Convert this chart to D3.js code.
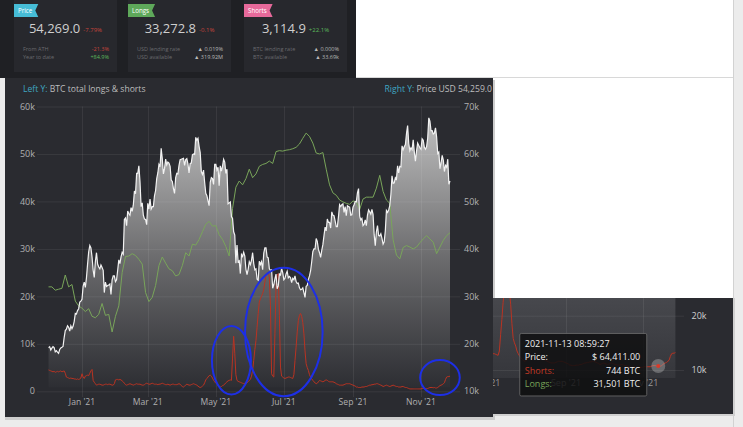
<!DOCTYPE html>
<html><head><meta charset="utf-8">
<script src="https://cdn.jsdelivr.net/npm/d3@7"></script>
<style>html,body{margin:0;padding:0;background:#ececec;overflow:hidden}svg{display:block;font-family:"Open Sans",sans-serif}</style>
</head><body><svg id="c" width="743" height="427"></svg>
<script>
// ---------------- DATA ----------------
// BTC price (USD thousands), daily from 2020-12-02
const priceStart = "2020-12-02";
const priceK = [
 19.2,19.4,18.7,19.1,19.4,19.2,18.3,18.55,18.25,18.0,18.8,19.15,19.27,19.44,21.3,22.8,23.1,23.8,23.5,22.7,23.8,23.2,23.7,24.7,26.4,26.3,27.0,27.4,28.8,29.0,
 29.4,32.1,33.0,31.9,33.9,36.8,39.4,40.7,40.2,38.3,35.5,34.0,37.4,39.2,36.8,36.2,35.8,36.6,36.1,35.5,30.8,33.0,32.1,32.3,32.4,32.6,30.4,33.5,34.3,34.3,33.1,
 33.5,35.5,37.7,36.9,38.3,39.3,38.9,46.2,46.5,44.9,48.0,47.4,47.1,48.7,47.9,49.2,52.2,51.6,55.9,55.9,57.5,54.2,48.9,49.7,47.1,46.3,46.2,45.1,
 49.6,48.4,50.5,48.4,48.9,48.9,51.2,52.3,54.8,56.0,57.8,57.3,61.2,59.0,55.8,56.9,58.9,57.7,58.3,58.1,57.4,54.5,54.2,52.7,51.7,55.0,55.9,55.8,57.6,58.8,58.9,
 59.0,59.1,57.6,58.8,59.0,57.9,56.0,58.0,58.1,59.8,60.0,59.9,63.5,62.9,63.3,61.6,60.3,56.3,55.7,56.6,54.0,51.7,51.2,50.1,49.1,54.0,55.0,54.8,53.6,57.8,
 57.8,56.6,57.2,53.3,57.5,56.4,57.4,58.9,58.3,55.9,56.8,49.5,49.7,49.9,46.8,46.4,43.6,42.9,37.0,40.8,37.3,37.5,34.8,38.8,38.4,39.3,38.5,35.7,34.6,35.7,37.3,
 36.7,37.6,39.2,36.9,35.6,35.8,33.6,33.4,37.4,36.7,37.3,35.6,39.1,40.2,40.2,38.3,38.1,35.8,35.5,35.6,31.7,32.5,33.7,34.7,31.6,32.2,34.7,34.5,35.9,35.0,
 33.5,33.8,34.7,35.3,33.9,34.2,33.9,32.9,33.8,33.5,34.3,33.1,32.7,32.8,31.8,31.4,31.5,31.8,30.8,29.8,32.1,32.3,33.6,34.3,35.4,37.3,39.4,40.0,40.0,42.2,41.6,
 39.9,39.2,38.2,39.7,40.9,42.8,44.6,43.8,46.3,45.6,45.6,44.4,47.8,47.1,47.0,45.9,44.7,44.7,46.8,49.3,48.9,49.3,49.5,47.7,48.9,47.0,49.1,48.9,48.8,47.1,47.2,
 48.8,49.3,50.0,49.9,51.8,52.7,46.9,46.1,46.4,44.9,45.2,46.1,44.9,47.1,48.2,47.8,47.3,48.3,47.3,43.0,40.7,43.6,44.9,42.8,42.7,43.2,42.2,41.0,41.5,43.8,
 48.1,47.7,48.2,49.1,51.5,55.4,53.8,53.9,55.0,54.7,57.5,56.0,57.4,57.3,61.7,60.9,61.5,62.0,64.3,66.0,62.2,60.7,61.3,60.9,63.0,60.4,58.5,60.6,62.3,61.8,61.3,
 61.0,63.2,62.9,61.4,61.0,61.5,63.3,67.6,66.9,64.9,64.9,64.2,64.4,65.5,63.6,60.1,60.4,56.9,58.1,59.7,58.7,56.3,57.6,57.2,58.9,53.6,54.3
];
// BTC total longs (thousands), every 3 days from 2020-12-02
const longsStart = "2020-12-02";
const longsStepDays = 3;
const longsK = [
 22.0,22.0,21.3,21.5,21.7,24.5,22.0,22.5,19.0,18.0,
 17.5,16.8,17.4,15.8,15.5,16.2,18.5,16.0,16.2,12.5,
 15.8,18.0,25.0,28.4,28.5,29.0,28.6,27.8,26.8,20.8,
 18.9,19.8,22.3,26.5,28.3,27.0,25.8,25.4,24.3,24.6,
 26.5,29.2,28.5,31.0,30.8,32.0,33.6,35.2,35.8,34.8,
 34.9,33.0,32.0,30.5,28.5,38.5,43.0,44.3,43.5,44.8,
 46.8,45.0,45.8,47.4,47.8,48.0,48.5,48.0,50.5,50.7,
 50.6,50.8,50.9,51.1,51.4,52.1,53.3,54.4,53.7,52.3,
 50.2,50.0,50.3,46.8,43.5,41.8,41.3,40.3,39.9,39.6,
 39.4,40.1,39.9,38.3,40.5,40.9,40.9,40.9,42.8,45.5,
 42.1,40.3,39.6,31.9,28.7,27.9,30.3,30.7,30.4,30.0,
 30.4,31.3,32.1,32.8,32.1,31.4,29.0,30.4,31.8,32.8,
 33.4
];
// BTC total shorts (thousands), daily from 2020-12-02
const shortsStart = "2020-12-02";
const shortsK = [
 4.5,4.4,4.3,4.2,4.1,4.2,4.0,4.1,4.2,4.1, 4.2,4.3,4.1,4.2,4.3,3.8,3.0,2.9,2.8,2.7,
 2.8,2.7,2.7,2.6,2.6,2.5,2.6,2.5,2.6,2.8, 3.7,3.0,2.7,3.2,3.3,3.4,3.3,3.8,4.3,4.6,
 2.3,1.9,1.6,1.3,1.4,1.5,1.5,1.4,1.3,1.3, 1.4,1.5,1.5,1.4,1.5,1.5,1.4,1.3,1.3,1.6,
 2.4,2.5,2.5,2.4,2.5,2.4,2.2,2.0,1.7,1.4, 1.3,1.4,1.5,1.6,1.5,1.4,1.3,1.4,1.5,1.6,
 1.5,1.5,1.5,1.4,1.3,1.3,1.4,1.6,1.7,1.6, 1.5,1.5,1.6,1.7,1.6,1.5,1.5,1.5,1.4,1.5,
 1.5,1.6,1.7,1.6,1.5,1.4,1.4,1.5,1.4,1.3, 1.4,1.5,1.5,1.4,1.4,1.4,1.5,1.6,1.5,1.2,
 1.0,0.9,1.1,1.3,1.5,1.4,1.3,1.3,1.4,1.5, 1.6,1.5,1.4,1.3,1.1,0.9,0.8,0.9,1.1,1.3,
 1.8,2.4,2.7,3.0,3.3,3.4,3.2,2.8,2.3,2.0, 1.7,1.6,1.3,1.0,0.9,1.0,1.2,1.3,1.5,1.8,
 2.0,2.2,2.3,2.4,2.3,7.0,11.6,8.0,3.5,2.3, 2.1,2.0,1.9,1.8,1.7,1.6,1.7,1.7,1.8,2.0,
 2.3,2.5,3.2,4.4,6.5,8.8,10.7,13.5,16.4,18.8, 19.5,20.0,20.6,21.5,23.0,24.5,24.8,25.1,24.0,18.0,
 3.7,3.2,3.0,12.1,22.0,24.5,24.8,16.0,5.1,3.2, 3.0,2.8,2.7,2.8,2.9,3.0,3.0,2.9,2.8,2.7,
 3.5,6.5,9.3,12.5,14.9,16.0,16.4,15.8,14.5,12.1, 8.5,5.8,5.0,4.4,3.5,3.0,2.6,2.3,2.0,1.8,
 1.6,1.7,2.0,2.3,2.2,2.1,2.0,2.1,2.3,2.4, 2.3,2.1,2.0,2.0,2.0,2.0,1.9,1.8,1.6,1.5,
 1.4,1.3,1.3,1.3,1.3,1.4,1.5,1.6,1.6,1.6, 1.6,1.5,1.4,1.3,1.2,1.1,0.9,0.9,0.8,0.8,
 0.8,0.9,0.9,0.9,1.0,1.0,1.1,1.2,1.3,1.3, 1.4,1.4,1.5,1.5,1.6,1.6,1.5,1.4,1.3,1.2,
 1.0,1.1,1.2,1.3,1.2,1.1,1.0,1.1,1.2,1.3, 1.2,1.1,1.0,1.0,0.9,0.9,0.9,1.0,1.0,0.9,
 0.8,0.8,0.7,0.6,0.5,0.5,0.5,0.5,0.5,0.5, 0.5,0.5,0.5,0.5,0.5,0.6,0.6,0.6,0.6,0.6,
 0.6,0.7,0.8,0.8,0.8,0.74,0.8,0.7,0.7,0.8, 1.0,1.2,1.3,1.4,1.6,1.8,2.5,3.0,3.1,3.1,
 3.2
];
const xTickDates = ["2021-01-01","2021-03-01","2021-05-01","2021-07-01","2021-09-01","2021-11-01"];
const leftTicks = [0,10000,20000,30000,40000,50000,60000];
const rightTicks = [10000,20000,30000,40000,50000,60000,70000];
// highlighted circles (annotations)
const circleDates = ["2021-05-15","2021-07-01","2021-11-18"];
const circleValues = [6550,12500,2900];
const circleRx = [19.5,38.8,19.8];
const circleRy = [34.2,64.2,17.5];
// header cards
const cardTitles = ["Price","Longs","Shorts"];
const cardValues = ["54,269.0","33,272.8","3,114.9"];
const cardChanges = ["-7.79%","-0.1%","+22.1%"];
const cardRow1Labels = ["From ATH","USD lending rate","BTC lending rate"];
const cardRow1Values = ["-21.3%","\u25B2 0.019%","\u25B2 0.000%"];
const cardRow2Labels = ["Year to date","USD available","BTC available"];
const cardRow2Values = ["+84.9%","\u25B2 319.92M","\u25B2 33.69k"];
// tooltip
const tipTime = "2021-11-13 08:59:27";
const tipPrice = 64411.00;
const tipShorts = 744;
const tipLongs = 31501;
const lastPriceLabel = "54,259.0";

// ---------------- DRAW ----------------
const svg = d3.select("#c");
const parse = d3.utcParse("%Y-%m-%d");
const series = (start, step, arr) => arr.map((v,i)=>({date:d3.utcDay.offset(parse(start), i*step), value:v*1000}));
const price = series(priceStart,1,priceK);
const longs = series(longsStart,longsStepDays,longsK);
const shorts = series(shortsStart,1,shortsK);
const xTicks = xTickDates.map(parse);
const fmtMonth = d3.utcFormat("%b '%y");
const fmtK = v => v===0 ? "0" : (v/1000)+"k";

const C = {bg:"#2a2b30", grid:"rgba(255,255,255,0.07)", tick:"#b0b0b0", teal:"#3fa6c2",
  green:"#79a55a", red:"#b93322", white:"#f2f2f2"};

// page
svg.append("rect").attr("width",743).attr("height",427).attr("fill","#ececec");
svg.append("rect").attr("x",340).attr("y",0).attr("width",393).attr("height",298).attr("fill","#ffffff");
svg.append("line").attr("x1",733.5).attr("x2",733.5).attr("y1",0).attr("y2",427).attr("stroke","#d2d2d2");
svg.append("line").attr("x1",356).attr("x2",733).attr("y1",77.5).attr("y2",77.5).attr("stroke","#d8d8d8");

// top panel with cards
svg.append("rect").attr("x",0).attr("y",0).attr("width",356).attr("height",78).attr("fill","#1f2024");
const tagColors = ["#46bcd6","#5ea85a","#e6699a"];
const cardX = [14,128,244];
const cardW = 103;
const defsTop = svg.append("defs");
cardTitles.forEach((t,i)=>{
  const g = svg.append("g").attr("transform",`translate(${cardX[i]},0)`);
  g.append("rect").attr("width",cardW).attr("height",72).attr("fill","#27282d");
  const tt = g.append("text").attr("x",4).attr("y",12.6).attr("font-size",6.2).attr("fill","#fff").text(t);
  const tw = tt.node().getComputedTextLength()+10;
  g.insert("path","text").attr("d",`M0,4H${tw}L${tw-3},10.5L${tw},17H0Z`).attr("fill",tagColors[i]);
  const big = g.append("text").attr("y",33).attr("font-size",13).attr("fill","#cfcfcf").text(cardValues[i]);
  const ch = g.append("text").attr("y",32).attr("font-size",6).attr("fill",cardChanges[i][0]==="-"?"#c8453c":"#5cb85c").text(cardChanges[i]);
  const bw = big.node().getComputedTextLength(), cw = ch.node().getComputedTextLength();
  const gx = cardW/2 - (bw+3+cw)/2;
  big.attr("x",gx); ch.attr("x",gx+bw+3);
  const vcol = v => v[0]==="-"?"#c8453c":(v[0]==="+"?"#5cb85c":"#b8b8b8");
  [[cardRow1Labels,cardRow1Values,51],[cardRow2Labels,cardRow2Values,59]].forEach(([L,V,y])=>{
    g.append("text").attr("x",9).attr("y",y).attr("font-size",5.5).attr("fill","#6a6a6e").text(L[i]);
    g.append("text").attr("x",cardW-8).attr("y",y).attr("text-anchor","end").attr("font-size",5.5).attr("fill",vcol(V[i])).text(V[i]);
  });
});

// main panel
svg.append("rect").attr("x",5).attr("y",80).attr("width",490).attr("height",340).attr("fill","#cdcdcd");
svg.append("rect").attr("x",5).attr("y",78).attr("width",488).attr("height",339).attr("fill",C.bg);
// right small panel
svg.append("rect").attr("x",493).attr("y",298).attr("width",242).attr("height",118).attr("fill","#d0d0d0");
svg.append("rect").attr("x",493).attr("y",298).attr("width",240).attr("height",116).attr("fill",C.bg);

// title row
svg.append("text").attr("x",23).attr("y",92).attr("font-size",8.6)
  .call(t=>{t.append("tspan").attr("fill",C.teal).text("Left Y: ");t.append("tspan").attr("fill","#bdbdbd").text("BTC total longs & shorts");});
svg.append("text").attr("x",492).attr("y",92).attr("font-size",8.6).attr("text-anchor","end")
  .call(t=>{t.append("tspan").attr("fill",C.teal).text("Right Y: ");t.append("tspan").attr("fill","#bdbdbd").text("Price USD "+lastPriceLabel);});

const x = d3.scaleUtc().domain([xTicks[0], xTicks[5]]).range([82,421]);
const yL = d3.scaleLinear().domain([0,60000]).range([391.3,106.5]);
const yR = d3.scaleLinear().domain([10000,70000]).range([391.3,106.5]);

const grad = defsTop.append("linearGradient").attr("id","pg").attr("gradientUnits","userSpaceOnUse")
  .attr("x1",0).attr("x2",0).attr("y1",yR(70000)).attr("y2",yR(10000)-4);
grad.append("stop").attr("offset",0).attr("stop-color","#c6c6c6");
grad.append("stop").attr("offset",0.55).attr("stop-color","#6a6a6c");
grad.append("stop").attr("offset",1).attr("stop-color","#2d2e33");

const main = svg.append("g");
main.append("path").datum(price).attr("fill","url(#pg)")
  .attr("d",d3.area().x(d=>x(d.date)).y0(yR(10000)-4).y1(d=>yR(d.value)));
// grid
main.selectAll(".hg").data(leftTicks).join("line").attr("x1",37).attr("x2",460)
  .attr("y1",d=>yL(d)+0.5).attr("y2",d=>yL(d)+0.5).attr("stroke",C.grid);
main.selectAll(".vg").data(xTicks).join("line").attr("y1",yL(60000)).attr("y2",397)
  .attr("x1",d=>Math.round(x(d))+0.5).attr("x2",d=>Math.round(x(d))+0.5).attr("stroke",C.grid);
// axes labels
main.selectAll(".lt").data(leftTicks).join("text").attr("x",35).attr("y",d=>yL(d)).attr("dy","0.35em")
  .attr("text-anchor","end").attr("font-size",9).attr("fill",C.tick).text(fmtK);
main.selectAll(".rt").data(rightTicks).join("text").attr("x",464).attr("y",d=>yR(d)).attr("dy","0.35em")
  .attr("font-size",9).attr("fill",C.tick).text(fmtK);
main.selectAll(".xt").data(xTicks).join("text").attr("x",d=>x(d)).attr("y",405)
  .attr("text-anchor","middle").attr("font-size",8.6).attr("fill",C.tick).text(fmtMonth);
// lines
const lineL = d3.line().x(d=>x(d.date)).y(d=>yL(d.value));
main.append("path").datum(longs).attr("fill","none").attr("stroke",C.green).attr("stroke-width",1).attr("d",lineL);
main.append("path").datum(shorts).attr("fill","none").attr("stroke",C.red).attr("stroke-width",1).attr("d",lineL);
main.append("path").datum(price).attr("fill","none").attr("stroke",C.white).attr("stroke-width",1.2)
  .attr("d",d3.line().x(d=>x(d.date)).y(d=>yR(d.value)));
// annotation ellipses
main.selectAll(".el").data(circleDates).join("ellipse")
  .attr("cx",d=>x(parse(d))).attr("cy",(d,i)=>yL(circleValues[i]))
  .attr("rx",(d,i)=>circleRx[i]).attr("ry",(d,i)=>circleRy[i])
  .attr("fill","none").attr("stroke","#1d2fe6").attr("stroke-width",2);

// ---------- right zoomed panel ----------
defsTop.append("clipPath").attr("id","cp2").append("rect").attr("x",493).attr("y",298).attr("width",240).attr("height",116);
const x2 = d3.scaleUtc().domain([xTicks[4], xTicks[5]]).range([566,642.7]);
const yL2 = d3.scaleLinear().domain([0,10000]).range([370,315.7]);
const yR2 = d3.scaleLinear().domain([10000,20000]).range([370,315.7]);
const p2 = svg.append("g").attr("clip-path","url(#cp2)");
const grad2 = defsTop.append("linearGradient").attr("id","pg2").attr("gradientUnits","userSpaceOnUse")
  .attr("x1",0).attr("x2",0).attr("y1",298).attr("y2",378);
grad2.append("stop").attr("offset",0).attr("stop-color","#47484d");
grad2.append("stop").attr("offset",1).attr("stop-color","#35363b");
p2.append("path").datum(price).attr("fill","url(#pg2)")
  .attr("d",d3.area().x(d=>x2(d.date)).y0(378).y1(d=>yR2(d.value)));
p2.selectAll(".hg2").data(rightTicks.filter(v=>v<=20000)).join("line").attr("x1",493).attr("x2",684)
  .attr("y1",d=>yR2(d)+0.5).attr("y2",d=>yR2(d)+0.5).attr("stroke",C.grid);
p2.selectAll(".vg2").data(xTicks).join("line").attr("y1",298).attr("y2",377)
  .attr("x1",d=>Math.round(x2(d))+0.5).attr("x2",d=>Math.round(x2(d))+0.5).attr("stroke",C.grid);
p2.selectAll(".xt2").data(xTicks).join("text").attr("x",d=>x2(d)).attr("y",385.5)
  .attr("text-anchor","middle").attr("font-size",9).attr("fill","#9a9a9a").text(fmtMonth);
p2.selectAll(".rt2").data(rightTicks.filter(v=>v<=20000)).join("text").attr("x",691.5).attr("y",d=>yR2(d)).attr("dy","0.35em")
  .attr("font-size",9).attr("fill","#cfcfcf").text(fmtK);
const lineL2 = d3.line().x(d=>x2(d.date)).y(d=>yL2(d.value));
p2.append("path").datum(longs).attr("fill","none").attr("stroke",C.green).attr("d",lineL2);
p2.append("path").datum(shorts).attr("fill","none").attr("stroke",C.red).attr("stroke-width",1).attr("d",lineL2);
p2.append("path").datum(price).attr("fill","none").attr("stroke",C.white)
  .attr("d",d3.line().x(d=>x2(d.date)).y(d=>yR2(d.value)));
const tipDate = d3.utcParse("%Y-%m-%d %H:%M:%S")(tipTime);
const px = x2(tipDate), py = yL2(tipShorts);
p2.append("circle").attr("cx",px).attr("cy",py).attr("r",7).attr("fill","rgba(200,200,200,0.35)");
p2.append("circle").attr("cx",px).attr("cy",py).attr("r",2).attr("fill","#d83a2a");
// tooltip
const tx = px-139, ty = py-33;
const tip = svg.append("g").attr("transform",`translate(${tx},${ty})`);
tip.append("rect").attr("x",0.5).attr("y",0.5).attr("width",127).attr("height",62.5).attr("rx",1.5)
  .attr("fill","rgba(14,14,15,0.84)").attr("stroke","#6e6e6e").attr("stroke-width",0.8);
tip.append("text").attr("x",5.5).attr("y",14.3).attr("font-size",9).attr("fill","#efefef").text(tipTime);
const rows = [["Price:","#efefef","$ "+d3.format(",.2f")(tipPrice)],["Shorts:",C.red.replace("#b93322","#c23a26"),d3.format(",")(tipShorts)+" BTC"],["Longs:",C.green,d3.format(",")(tipLongs)+" BTC"]];
rows.forEach((r,i)=>{
  tip.append("text").attr("x",5.5).attr("y",27.5+i*13.2).attr("font-size",9).attr("fill",r[1]).text(r[0]);
  tip.append("text").attr("x",121).attr("y",27.5+i*13.2).attr("font-size",9).attr("text-anchor","end").attr("fill","#efefef").text(r[2]);
});
</script></body></html>
